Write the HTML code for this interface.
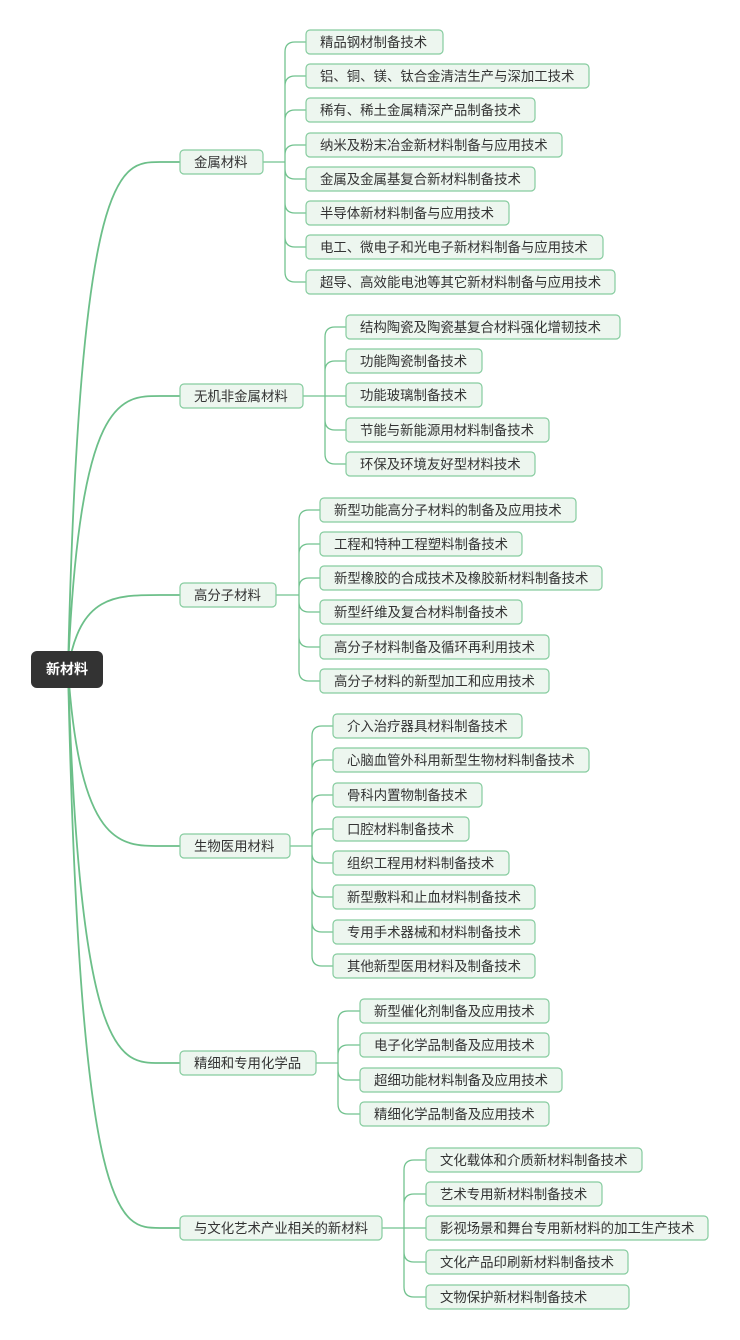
<!DOCTYPE html>
<html><head><meta charset="utf-8"><style>
html,body{margin:0;padding:0;background:#fff;}
svg{display:block;}
text{font-family:"Liberation Sans","Noto Sans CJK SC",sans-serif;font-size:13.4px;fill:#333;}
.l{fill:none;stroke:#72c28f;stroke-width:1.3;}
.r{fill:none;stroke:#6cbf89;stroke-width:1.8;}
.n{fill:#edf6ef;stroke:#86cc9f;stroke-width:1.2;}
</style></head><body>
<svg width="740" height="1340" viewBox="0 0 740 1340" xmlns="http://www.w3.org/2000/svg">
<path class="r" d="M68 669C80 162 120 162 160 162H180"/>
<path class="r" d="M68 669C80 396 120 396 160 396H180"/>
<path class="r" d="M68 669C80 595 115 595 160 595H180"/>
<path class="r" d="M68 669C80 846 120 846 160 846H180"/>
<path class="r" d="M68 669C80 1063 120 1063 160 1063H180"/>
<path class="r" d="M68 669C80 1228 120 1228 160 1228H180"/>
<path class="l" d="M263 162H285"/>
<path class="l" d="M285 162V52Q285 42 295 42H306M285 162V86Q285 76 295 76H306M285 162V120Q285 110 295 110H306M285 162V155Q285 145 295 145H306M285 162V169Q285 179 295 179H306M285 162V203Q285 213 295 213H306M285 162V237Q285 247 295 247H306M285 162V272Q285 282 295 282H306"/>
<path class="l" d="M303 396H346M325 396V337Q325 327 335 327H346M325 396V371Q325 361 335 361H346M325 396V420Q325 430 335 430H346M325 396V454Q325 464 335 464H346"/>
<path class="l" d="M276 595H299M299 595V520Q299 510 309 510H320M299 595V554Q299 544 309 544H320M299 595V588Q299 578 309 578H320M299 595V602Q299 612 309 612H320M299 595V637Q299 647 309 647H320M299 595V671Q299 681 309 681H320"/>
<path class="l" d="M290 846H312M312 846V736Q312 726 322 726H333M312 846V770Q312 760 322 760H333M312 846V805Q312 795 322 795H333M312 846V839Q312 829 322 829H333M312 846V853Q312 863 322 863H333M312 846V887Q312 897 322 897H333M312 846V922Q312 932 322 932H333M312 846V956Q312 966 322 966H333"/>
<path class="l" d="M316 1063H338M338 1063V1021Q338 1011 348 1011H360M338 1063V1055Q338 1045 348 1045H360M338 1063V1070Q338 1080 348 1080H360M338 1063V1104Q338 1114 348 1114H360"/>
<path class="l" d="M382 1228H426M404 1228V1170Q404 1160 414 1160H426M404 1228V1204Q404 1194 414 1194H426M404 1228V1252Q404 1262 414 1262H426M404 1228V1287Q404 1297 414 1297H426"/>

<rect x="31" y="651" width="72" height="37" rx="6" fill="#333"/>
<text x="67" y="674" text-anchor="middle" style="fill:#fff;font-weight:bold;font-size:14px">新材料</text>

<rect class="n" x="180" y="150" width="83" height="24" rx="4"/><text x="194" y="167">金属材料</text>
<rect class="n" x="180" y="384" width="123" height="24" rx="4"/><text x="194" y="401">无机非金属材料</text>
<rect class="n" x="180" y="583" width="96" height="24" rx="4"/><text x="194" y="600">高分子材料</text>
<rect class="n" x="180" y="834" width="110" height="24" rx="4"/><text x="194" y="851">生物医用材料</text>
<rect class="n" x="180" y="1051" width="136" height="24" rx="4"/><text x="194" y="1068">精细和专用化学品</text>
<rect class="n" x="180" y="1216" width="202" height="24" rx="4"/><text x="194" y="1233">与文化艺术产业相关的新材料</text>

<rect class="n" x="306" y="30" width="137" height="24" rx="4"/><text x="320" y="47">精品钢材制备技术</text>
<rect class="n" x="306" y="64" width="283" height="24" rx="4"/><text x="320" y="81">铝、铜、镁、钛合金清洁生产与深加工技术</text>
<rect class="n" x="306" y="98" width="229" height="24" rx="4"/><text x="320" y="115">稀有、稀土金属精深产品制备技术</text>
<rect class="n" x="306" y="133" width="256" height="24" rx="4"/><text x="320" y="150">纳米及粉末冶金新材料制备与应用技术</text>
<rect class="n" x="306" y="167" width="229" height="24" rx="4"/><text x="320" y="184">金属及金属基复合新材料制备技术</text>
<rect class="n" x="306" y="201" width="203" height="24" rx="4"/><text x="320" y="218">半导体新材料制备与应用技术</text>
<rect class="n" x="306" y="235" width="297" height="24" rx="4"/><text x="320" y="252">电工、微电子和光电子新材料制备与应用技术</text>
<rect class="n" x="306" y="270" width="309" height="24" rx="4"/><text x="320" y="287">超导、高效能电池等其它新材料制备与应用技术</text>

<rect class="n" x="346" y="315" width="274" height="24" rx="4"/><text x="360" y="332">结构陶瓷及陶瓷基复合材料强化增韧技术</text>
<rect class="n" x="346" y="349" width="136" height="24" rx="4"/><text x="360" y="366">功能陶瓷制备技术</text>
<rect class="n" x="346" y="383" width="136" height="24" rx="4"/><text x="360" y="400">功能玻璃制备技术</text>
<rect class="n" x="346" y="418" width="203" height="24" rx="4"/><text x="360" y="435">节能与新能源用材料制备技术</text>
<rect class="n" x="346" y="452" width="189" height="24" rx="4"/><text x="360" y="469">环保及环境友好型材料技术</text>

<rect class="n" x="320" y="498" width="256" height="24" rx="4"/><text x="334" y="515">新型功能高分子材料的制备及应用技术</text>
<rect class="n" x="320" y="532" width="202" height="24" rx="4"/><text x="334" y="549">工程和特种工程塑料制备技术</text>
<rect class="n" x="320" y="566" width="282" height="24" rx="4"/><text x="334" y="583">新型橡胶的合成技术及橡胶新材料制备技术</text>
<rect class="n" x="320" y="600" width="202" height="24" rx="4"/><text x="334" y="617">新型纤维及复合材料制备技术</text>
<rect class="n" x="320" y="635" width="229" height="24" rx="4"/><text x="334" y="652">高分子材料制备及循环再利用技术</text>
<rect class="n" x="320" y="669" width="229" height="24" rx="4"/><text x="334" y="686">高分子材料的新型加工和应用技术</text>

<rect class="n" x="333" y="714" width="189" height="24" rx="4"/><text x="347" y="731">介入治疗器具材料制备技术</text>
<rect class="n" x="333" y="748" width="256" height="24" rx="4"/><text x="347" y="765">心脑血管外科用新型生物材料制备技术</text>
<rect class="n" x="333" y="783" width="149" height="24" rx="4"/><text x="347" y="800">骨科内置物制备技术</text>
<rect class="n" x="333" y="817" width="136" height="24" rx="4"/><text x="347" y="834">口腔材料制备技术</text>
<rect class="n" x="333" y="851" width="176" height="24" rx="4"/><text x="347" y="868">组织工程用材料制备技术</text>
<rect class="n" x="333" y="885" width="202" height="24" rx="4"/><text x="347" y="902">新型敷料和止血材料制备技术</text>
<rect class="n" x="333" y="920" width="202" height="24" rx="4"/><text x="347" y="937">专用手术器械和材料制备技术</text>
<rect class="n" x="333" y="954" width="202" height="24" rx="4"/><text x="347" y="971">其他新型医用材料及制备技术</text>

<rect class="n" x="360" y="999" width="189" height="24" rx="4"/><text x="374" y="1016">新型催化剂制备及应用技术</text>
<rect class="n" x="360" y="1033" width="189" height="24" rx="4"/><text x="374" y="1050">电子化学品制备及应用技术</text>
<rect class="n" x="360" y="1068" width="202" height="24" rx="4"/><text x="374" y="1085">超细功能材料制备及应用技术</text>
<rect class="n" x="360" y="1102" width="189" height="24" rx="4"/><text x="374" y="1119">精细化学品制备及应用技术</text>

<rect class="n" x="426" y="1148" width="216" height="24" rx="4"/><text x="440" y="1165">文化载体和介质新材料制备技术</text>
<rect class="n" x="426" y="1182" width="176" height="24" rx="4"/><text x="440" y="1199">艺术专用新材料制备技术</text>
<rect class="n" x="426" y="1216" width="282" height="24" rx="4"/><text x="440" y="1233">影视场景和舞台专用新材料的加工生产技术</text>
<rect class="n" x="426" y="1250" width="202" height="24" rx="4"/><text x="440" y="1267">文化产品印刷新材料制备技术</text>
<rect class="n" x="426" y="1285" width="203" height="24" rx="4"/><text x="440" y="1302">文物保护新材料制备技术</text>
</svg>
</body></html>
